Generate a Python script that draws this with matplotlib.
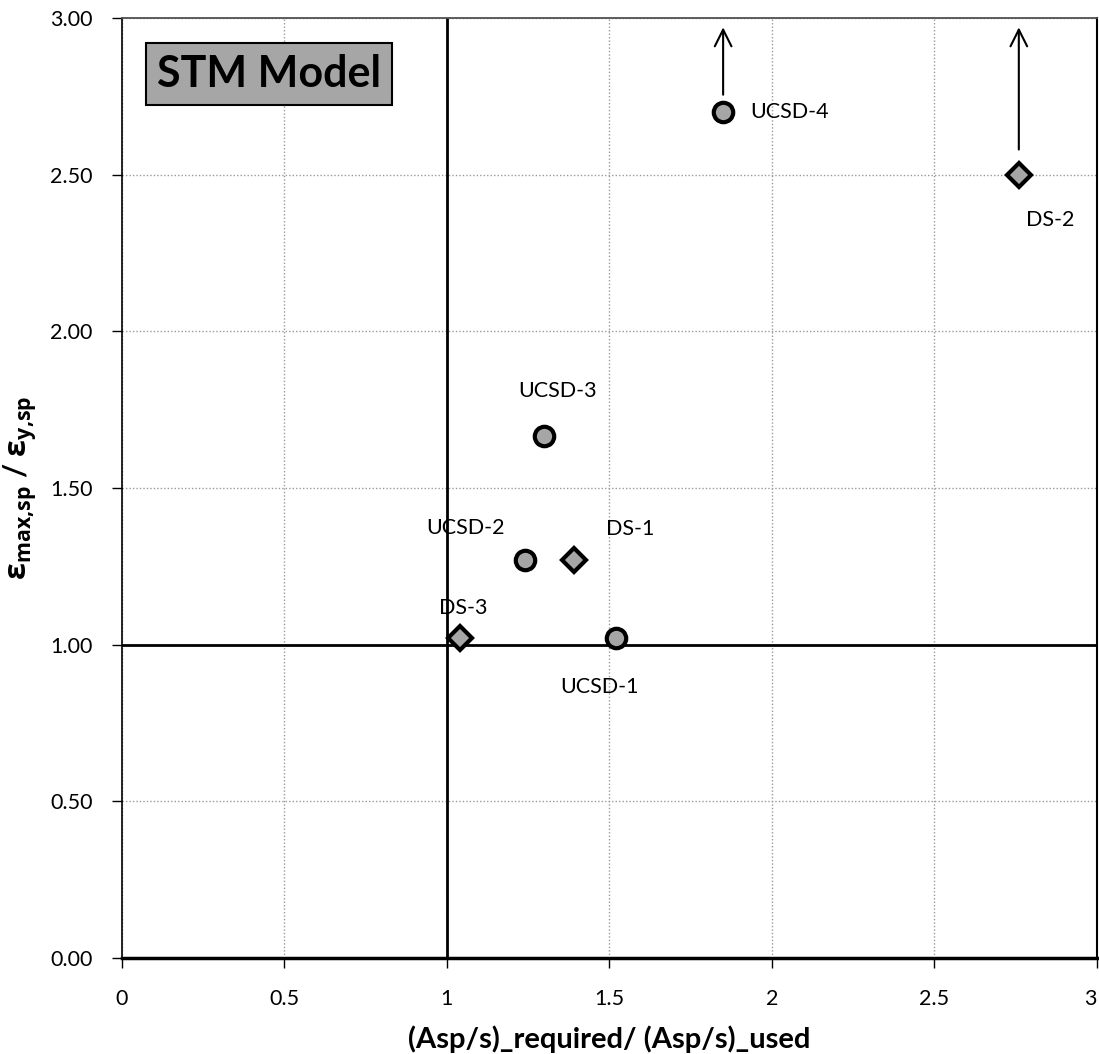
import matplotlib.pyplot as plt
import numpy as np

plt.rcParams['font.family'] = ['Lato', 'DejaVu Sans']
plt.rcParams['mathtext.fontset'] = 'custom'
plt.rcParams['mathtext.rm'] = 'Open Sans'
plt.rcParams['mathtext.bf'] = 'Open Sans:bold'

# circles (UCSD specimens)
circ_names = ["UCSD-1", "UCSD-2", "UCSD-3", "UCSD-4"]
circ_x = [1.52, 1.24, 1.30, 1.85]
circ_y = [1.02, 1.27, 1.665, 2.70]
# diamonds (DS specimens)
diam_names = ["DS-1", "DS-2", "DS-3"]
diam_x = [1.39, 2.76, 1.04]
diam_y = [1.27, 2.50, 1.02]
# arrows showing values beyond the plot
arrow_x = [1.85, 2.76]
arrow_y0 = [2.755, 2.58]
arrow_y1 = [2.97, 2.97]

xticks = [0, 0.5, 1, 1.5, 2, 2.5, 3]
xticklabels = ["0", "0.5", "1", "1.5", "2", "2.5", "3"]
yticks = [0, 0.5, 1, 1.5, 2, 2.5, 3]
yticklabels = ["%.2f" % t for t in yticks]

fig = plt.figure(figsize=(10.99, 10.54), dpi=100)
ax = fig.add_axes([0.111, 0.091, 0.887, 0.892])

ax.set_xlim(0, 3)
ax.set_ylim(0, 3)
ax.set_xticks(xticks)
ax.set_xticklabels(xticklabels)
ax.set_yticks(yticks)
ax.set_yticklabels(yticklabels)
ax.tick_params(labelsize=15.5, length=7, width=1, direction='out')
ax.tick_params(axis='y', pad=14)
ax.tick_params(axis='x', pad=15)
ax.get_xticklabels()[-1].set_horizontalalignment('right')

ax.grid(True, color='#9a9a9a', linestyle=(0, (1, 1.5)), linewidth=1)
ax.set_axisbelow(True)

ax.axvline(1, color='black', lw=2, zorder=2)
ax.axhline(1, color='black', lw=2, zorder=2)

ax.spines['top'].set_color('#505050')
ax.spines['top'].set_linestyle((0, (1, 1)))
ax.spines['top'].set_linewidth(1.3)
ax.spines['right'].set_linewidth(1.5)
ax.spines['left'].set_linewidth(1.2)
ax.spines['bottom'].set_linewidth(2.5)

mk = dict(markerfacecolor='#a6a6a6', markeredgecolor='black', markeredgewidth=3,
          linestyle='none', zorder=5)
ax.plot(circ_x, circ_y, marker='o', markersize=14, **mk)
ax.plot(diam_x, diam_y, marker='D', markersize=12, **mk)

for x, y0, y1 in zip(arrow_x, arrow_y0, arrow_y1):
    ax.annotate("", xy=(x, y1), xytext=(x, y0),
                arrowprops=dict(arrowstyle='->', color='black', lw=1.5,
                                mutation_scale=30, shrinkA=0, shrinkB=0))

# label offsets in pixels
offs = {"UCSD-1": (-16, -49), "UCSD-2": (-59, 32), "UCSD-3": (13, 45), "UCSD-4": (66, 0),
        "DS-1": (57, 31), "DS-2": (31, -45), "DS-3": (3, 30)}
for n, x, y in zip(circ_names + diam_names, circ_x + diam_x, circ_y + diam_y):
    dx, dy = offs[n]
    ax.annotate(n, (x, y), xytext=(dx, dy), textcoords='offset pixels',
                ha='center', va='center', fontsize=15.5)

ax.text(0.108, 2.822, "STM Model", fontsize=31, fontweight='bold', ha='left', va='center',
        bbox=dict(boxstyle='square,pad=0.26', facecolor='#a6a6a6', edgecolor='black', lw=1.5))

ax.set_xlabel("(Asp/s)_required/ (Asp/s)_used", fontsize=21, fontweight='bold', labelpad=12)
ax.set_ylabel(r"$\mathbf{ε_{max{,}sp}}$ / $\mathbf{ε_{y{,}sp}}$", fontsize=22, fontweight='bold',
              labelpad=8)

fig.savefig("out.png", dpi=100)
